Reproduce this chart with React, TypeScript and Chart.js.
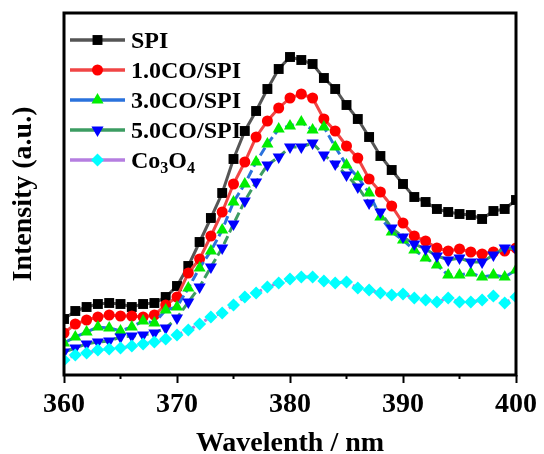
import React, { useEffect, useRef } from 'react';
import { Chart, registerables } from 'chart.js';

Chart.register(...registerables);

const wavelengths = [360, 361, 362, 363, 364, 365, 366, 367, 368, 369, 370, 371, 372, 373, 374, 375, 376, 377, 378, 379, 380, 381, 382, 383, 384, 385, 386, 387, 388, 389, 390, 391, 392, 393, 394, 395, 396, 397, 398, 399, 400];

const spi = [56, 64, 68, 71, 72, 71, 68, 71, 72, 78, 89, 109, 133, 157, 182, 216, 244, 264, 286, 306, 318, 315, 311, 297, 286, 270, 256, 238, 219, 205, 191, 178, 173, 166, 163, 161, 160, 156, 164, 166, 175];
const co10 = [42, 51, 55, 58, 60, 59, 59, 58, 60, 70, 78, 102, 116, 139, 163, 191, 213, 238, 254, 267, 277, 281, 277, 256, 244, 229, 217, 196, 183, 169, 152, 139, 134, 127, 124, 126, 123, 121, 123, 124, 127];
const co30 = [32, 38, 43, 48, 47, 44, 48, 54, 52, 65, 68, 87, 107, 124, 145, 173, 191, 213, 231, 246, 249, 253, 245, 248, 228, 210, 198, 182, 158, 143, 135, 125, 117, 110, 100, 100, 102, 98, 100, 98, 105];
const co50 = [23, 27, 31, 33, 34, 38, 39, 40, 42, 47, 57, 73, 88, 108, 127, 151, 174, 193, 210, 218, 228, 228, 232, 220, 211, 200, 188, 172, 163, 147, 138, 131, 126, 119, 115, 117, 113, 113, 120, 127, 126];
const co3o4 = [15, 20, 22, 25, 26, 27, 29, 31, 33, 36, 40, 45, 51, 58, 62, 70, 78, 82, 88, 92, 96, 98, 98, 94, 92, 93, 87, 85, 82, 80, 81, 77, 75, 73, 77, 73, 73, 75, 79, 72, 78];

const seriesLabels = ['SPI', '1.0CO/SPI', '3.0CO/SPI', '5.0CO/SPI', 'Co3O4'];
const xTicks = [360, 370, 380, 390, 400];
const xMinorTicks = [365, 375, 385, 395];

const FONT = '"Liberation Serif", "Times New Roman", serif';

function markerPath(ctx: CanvasRenderingContext2D, style: string, rotation: number, x: number, y: number, r: number) {
  ctx.beginPath();
  if (style === 'rect') {
    const s = Math.SQRT1_2 * r;
    ctx.rect(x - s, y - s, 2 * s, 2 * s);
  } else if (style === 'circle') {
    ctx.arc(x, y, r, 0, Math.PI * 2);
  } else if (style === 'triangle') {
    let rad = (rotation * Math.PI) / 180;
    ctx.moveTo(x + Math.sin(rad) * r, y - Math.cos(rad) * r);
    rad += (2 * Math.PI) / 3;
    ctx.lineTo(x + Math.sin(rad) * r, y - Math.cos(rad) * r);
    rad += (2 * Math.PI) / 3;
    ctx.lineTo(x + Math.sin(rad) * r, y - Math.cos(rad) * r);
  } else if (style === 'rectRot') {
    ctx.moveTo(x - r, y);
    ctx.lineTo(x, y - r);
    ctx.lineTo(x + r, y);
    ctx.lineTo(x, y + r);
  }
  ctx.closePath();
}

const framePlugin = {
  id: 'frameAndLegend',
  afterDatasetsDraw(chart: any) {
    const { ctx, chartArea } = chart;
    const { left, right, top, bottom } = chartArea;
    ctx.save();
    // frame
    ctx.strokeStyle = '#000';
    ctx.lineWidth = 3;
    ctx.setLineDash([]);
    ctx.strokeRect(left, top, right - left, bottom - top);
    // minor ticks
    const xs = chart.scales.x;
    ctx.lineWidth = 2;
    xMinorTicks.forEach((v) => {
      const px = xs.getPixelForValue(v);
      ctx.beginPath();
      ctx.moveTo(px, bottom);
      ctx.lineTo(px, bottom + 4);
      ctx.stroke();
    });
    // legend
    chart.data.datasets.forEach((ds: any, i: number) => {
      const y = top + 27 + i * 30;
      const x0 = left + 6;
      const x1 = left + 61;
      ctx.strokeStyle = ds.borderColor;
      ctx.lineWidth = 3.5;
      ctx.setLineDash([]);
      ctx.beginPath();
      ctx.moveTo(x0, y);
      ctx.lineTo(x1, y);
      ctx.stroke();
      markerPath(ctx, ds.pointStyle, ds.pointRotation || 0, (x0 + x1) / 2, y, ds.pointRadius);
      ctx.fillStyle = ds.pointBackgroundColor;
      ctx.fill();
      ctx.fillStyle = '#000';
      ctx.textBaseline = 'alphabetic';
      ctx.textAlign = 'left';
      const base = y + 8;
      let tx = left + 67;
      const label: string = ds.label;
      if (ds.subscriptDigits) {
        const parts = label.match(/[A-Za-z]+|\d+/g) || [];
        parts.forEach((p) => {
          if (/\d/.test(p)) {
            ctx.font = `bold 16px ${FONT}`;
            ctx.fillText(p, tx, base + 5);
            tx += ctx.measureText(p).width;
          } else {
            ctx.font = `bold 24px ${FONT}`;
            ctx.fillText(p, tx, base);
            tx += ctx.measureText(p).width;
          }
        });
      } else {
        ctx.font = `bold 24px ${FONT}`;
        ctx.fillText(label, tx, base);
      }
    });
    ctx.restore();
  },
};

export default function App() {
  const ref = useRef<HTMLCanvasElement | null>(null);
  useEffect(() => {
    if (!ref.current) return;
    const mk = (arr: number[]) => wavelengths.map((w, i) => ({ x: w, y: arr[i] }));
    const chart = new Chart(ref.current, {
      type: 'line',
      data: {
        datasets: [
          {
            label: seriesLabels[0], data: mk(spi), borderColor: '#555555', borderWidth: 3,
            pointStyle: 'rect', pointRadius: 7, pointBackgroundColor: '#000000', pointBorderWidth: 0,
            order: 5,
          },
          {
            label: seriesLabels[1], data: mk(co10), borderColor: '#f04545', borderWidth: 3,
            pointStyle: 'circle', pointRadius: 5.5, pointBackgroundColor: '#ff0000', pointBorderWidth: 0,
            order: 4,
          },
          {
            label: seriesLabels[2], data: mk(co30), borderColor: '#2a72dc', borderWidth: 3, borderDash: [9, 4],
            pointStyle: 'triangle', pointRadius: 7, pointBackgroundColor: '#00ee00', pointBorderWidth: 0,
            order: 3,
          },
          {
            label: seriesLabels[3], data: mk(co50), borderColor: '#3c9c62', borderWidth: 3, borderDash: [9, 4],
            pointStyle: 'triangle', pointRotation: 180, pointRadius: 7, pointBackgroundColor: '#0000ff', pointBorderWidth: 0,
            order: 2,
          },
          {
            label: seriesLabels[4], data: mk(co3o4), borderColor: '#b57ee0', borderWidth: 3, borderDash: [3, 4],
            pointStyle: 'rectRot', pointRadius: 6.5, pointBackgroundColor: '#00ffff', pointBorderWidth: 0,
            order: 1, subscriptDigits: true,
          } as any,
        ],
      },
      options: {
        responsive: false,
        animation: false,
        layout: { padding: { top: 13, right: 28, left: 0, bottom: 0 } },
        plugins: { legend: { display: false }, tooltip: { enabled: false } },
        scales: {
          x: {
            type: 'linear', min: 360, max: 400,
            afterFit: (s: any) => { s.height = 79; },
            afterBuildTicks: (s: any) => { s.ticks = xTicks.map((v) => ({ value: v })); },
            ticks: { color: '#000', padding: 5, font: { family: FONT, size: 28, weight: 'bold' } },
            grid: { drawOnChartArea: false, drawTicks: true, tickLength: 8, tickWidth: 2, tickColor: '#000' },
            border: { display: false },
            title: {
              display: true, text: 'Wavelenth / nm', color: '#000', padding: { top: 0, bottom: 0 },
              font: { family: FONT, size: 28, weight: 'bold', lineHeight: 0.7 },
            },
          },
          y: {
            min: 0, max: 362,
            afterFit: (s: any) => { s.width = 64; },
            ticks: { display: false },
            grid: { display: false, drawTicks: false },
            border: { display: false },
            title: {
              display: true, text: 'Intensity (a.u.)', color: '#000', padding: { top: 7, bottom: 0 },
              font: { family: FONT, size: 28, weight: 'bold' },
            },
          },
        },
      } as any,
      plugins: [framePlugin],
    });
    return () => chart.destroy();
  }, []);
  return (
    <div style={{ position: 'absolute', left: 0, top: 0, width: 544, height: 454, background: '#fff' }}>
      <canvas ref={ref} width={544} height={454} style={{ width: 544, height: 454 }} />
    </div>
  );
}
